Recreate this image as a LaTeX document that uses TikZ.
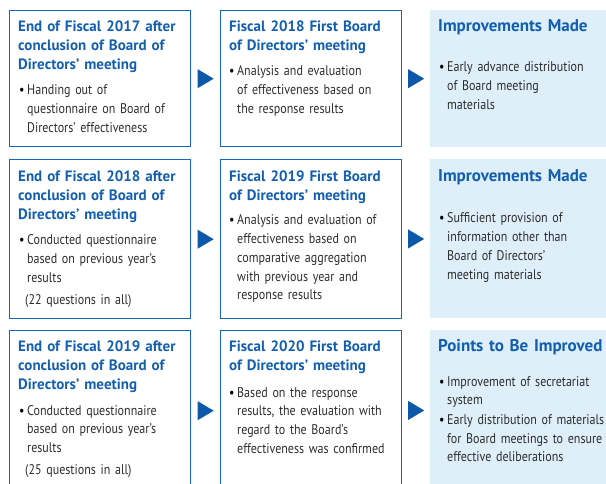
\documentclass[tikz,border=0pt]{standalone}
\usepackage{fontspec}
\newfontfamily\headfont{PT Sans}
\newfontfamily\bodyfont[FakeStretch=0.86]{PT Sans}
\usepackage{xcolor}
\definecolor{brdblue}{RGB}{22,102,190}
\definecolor{headblue}{RGB}{18,94,176}
\definecolor{paleblue}{RGB}{222,239,250}
\definecolor{tipblue}{RGB}{14,88,170}
\definecolor{bodygray}{RGB}{45,45,45}
\usetikzlibrary{calc,positioning}
\newcommand{\bulitem}[1]{\noindent\makebox[8pt][l]{\color{black}\textbullet}\parbox[t]{180pt}{\strut#1\strut}\par}
\tikzset{
  stepbox/.style={draw=brdblue,line width=1.4pt,inner sep=0,anchor=north west,minimum width=181pt},
  resultbox/.style={fill=paleblue,inner sep=0,anchor=north west,minimum width=180pt},
  headtext/.style={anchor=base west,inner sep=0,text width=190pt,align=left,text=headblue,
    font=\headfont\bfseries\fontsize{15}{19}\selectfont},
  bighead/.style={headtext,font=\headfont\bfseries\fontsize{17}{21}\selectfont},
  bodytext/.style={anchor=base west,inner sep=0,text width=190pt,text=bodygray,
    font=\bodyfont\fontsize{14}{18.7}\selectfont},
  steptip/.pic={\fill[tipblue] (-8,-9.5) -- (8,0) -- (-8,9.5) -- cycle;}
}
\begin{document}
\begin{tikzpicture}[x=1pt,y=-1pt]
  \useasboundingbox (0,0) rectangle (606,484);
  \clip (0,0) rectangle (606,484);
  % boxes
  \node[stepbox,minimum height=136pt] (b11) at (9,10) {};
  \node[stepbox,minimum height=136pt] (b12) at (220,10) {};
  \node[resultbox,minimum height=137pt] (r13) at (430,10) {};
  \node[stepbox,minimum height=159pt] (b21) at (9,159) {};
  \node[stepbox,minimum height=159pt] (b22) at (220,159) {};
  \node[resultbox,minimum height=159pt] (r23) at (430,159) {};
  \node[stepbox,minimum height=160pt] (b31) at (9,330) {};
  \node[stepbox,minimum height=160pt] (b32) at (220,330) {};
  \node[resultbox,minimum height=160pt] (r33) at (430,330) {};
  % arrows
  \coordinate (p11) at ($(b11.east)!0.5!(b12.west)$);
  \coordinate (p12) at ($(b12.east)!0.5!(r13.west)$);
  \coordinate (p21) at ($(b21.east)!0.5!(b22.west)$);
  \coordinate (p22) at ($(b22.east)!0.5!(r23.west)$);
  \coordinate (p31) at ($(b31.east)!0.5!(b32.west)$);
  \coordinate (p32) at ($(b32.east)!0.5!(r33.west)$);
  \pic at (p11) {steptip};
  \pic at (p12) {steptip};
  \pic at (p21) {steptip};
  \pic at (p22) {steptip};
  \pic at (p31) {steptip};
  \pic at (p32) {steptip};
  % first row
  \node[headtext] (h11) at (18,32) {End of Fiscal 2017 after\\conclusion of Board of\\Directors’ meeting};
  \node[bodytext] (d11) at (19,95) {\bulitem{Handing out of\\questionnaire on Board of\\Directors’ effectiveness}};
  \node[headtext] (h12) at (229,32) {Fiscal 2018 First Board\\of Directors’ meeting};
  \node[bodytext] (d12) at (229,76) {\bulitem{Analysis and evaluation\\of effectiveness based on\\the response results}};
  \node[bighead] (h13) at (438,32) {Improvements Made};
  \node[bodytext] (d13) at (439,72) {\bulitem{Early advance distribution\\of Board meeting\\materials}};
  % second row
  \node[headtext] (h21) at (18,182) {End of Fiscal 2018 after\\conclusion of Board of\\Directors’ meeting};
  \node[bodytext] (d21) at (19,245) {\bulitem{Conducted questionnaire\\based on previous year’s\\results\\[3.5pt]\hspace*{-2pt}(22 questions in all)}};
  \node[headtext] (h22) at (229,182) {Fiscal 2019 First Board\\of Directors’ meeting};
  \node[bodytext] (d22) at (229,225) {\bulitem{Analysis and evaluation of\\effectiveness based on\\comparative aggregation\\with previous year and\\response results}};
  \node[bighead] (h23) at (438,182) {Improvements Made};
  \node[bodytext] (d23) at (439,223) {\bulitem{Sufficient provision of\\information other than\\Board of Directors’\\meeting materials}};
  % third row
  \node[headtext] (h31) at (18,352) {End of Fiscal 2019 after\\conclusion of Board of\\Directors’ meeting};
  \node[bodytext] (d31) at (19,415) {\bulitem{Conducted questionnaire\\based on previous year’s\\results\\[3.5pt]\hspace*{-2pt}(25 questions in all)}};
  \node[headtext] (h32) at (229,352) {Fiscal 2020 First Board\\of Directors’ meeting};
  \node[bodytext] (d32) at (229,397) {\bulitem{Based on the response\\results, the evaluation with\\regard to the Board’s\\effectiveness was confirmed}};
  \node[bighead] (h33) at (438,352) {Points to Be Improved};
  \node[bodytext] (d33) at (439,386) {\bulitem{Improvement of secretariat\\system}\bulitem{Early distribution of materials\\for Board meetings to ensure\\effective deliberations}};
\end{tikzpicture}
\end{document}
